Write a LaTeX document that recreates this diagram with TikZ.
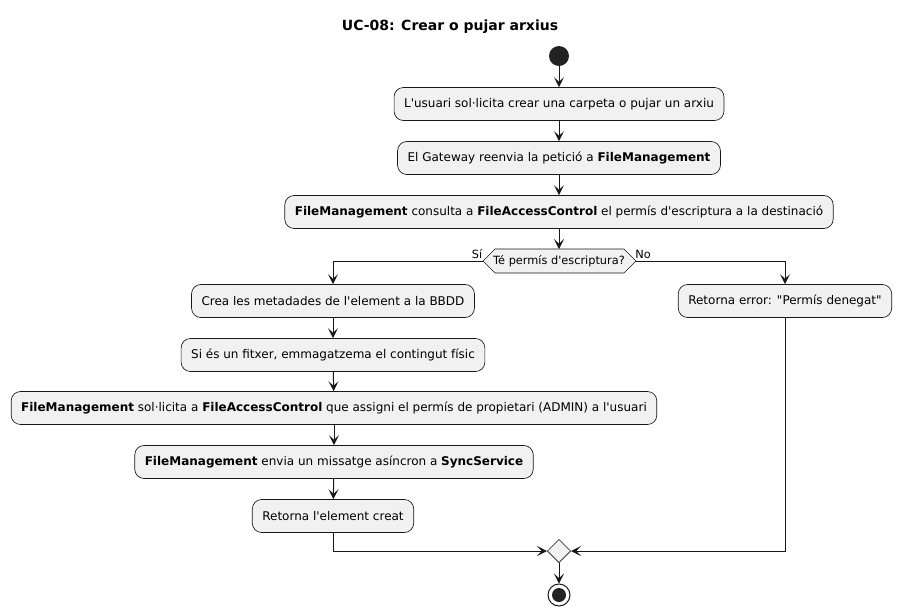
\documentclass[tikz,border=0pt]{standalone}
\usepackage{fontspec}
\setmainfont{DejaVu Sans}[Ligatures=TeXOff]
\usetikzlibrary{arrows.meta,shapes.geometric}
\definecolor{linec}{HTML}{181818}
\definecolor{boxfill}{HTML}{F1F1F1}
\definecolor{dotc}{HTML}{222222}
\tikzset{
  act/.style={draw=linec, fill=boxfill, line width=0.5pt, rounded corners=7pt,
    minimum height=24.75pt, inner xsep=7.5pt, inner ysep=0pt,
    font=\fontsize{9pt}{11pt}\selectfont},
  conn/.style={draw=linec, line width=0.75pt, -{Stealth[length=7.5pt,width=7.5pt,inset=3.5pt]}},
  lbl/.style={font=\fontsize{8.5pt}{10pt}\selectfont, inner sep=0pt, text=black},
}
\begin{document}
\begin{tikzpicture}[x=0.75pt,y=-0.75pt]
\useasboundingbox (0,0) rectangle (901,615);
\node[font=\fontsize{10.5pt}{12pt}\selectfont\bfseries] (title) at (450,27) {UC-08: Crear o pujar arxius};

\node[circle, fill=dotc, minimum size=15pt, inner sep=0pt] (start) at (559,56) {};
\node[act] (b1) at (559,104) {L'usuari sol·licita crear una carpeta o pujar un arxiu};
\node[act] (b2) at (559,158) {El Gateway reenvia la petició a \textbf{FileManagement}};
\node[act] (b3) at (559,212) {\textbf{FileManagement} consulta a \textbf{FileAccessControl} el permís d'escriptura a la destinació};

% decision hexagon
\coordinate (dL) at (483,261);
\coordinate (dR) at (636,261);
\coordinate (dT) at (559,249);
\filldraw[draw=linec, fill=boxfill, line width=0.5pt] (dL) -- (495,249) -- (624,249) -- (dR) -- (624,273) -- (495,273) -- cycle;
\node[font=\fontsize{8.5pt}{10pt}\selectfont] (d) at (559,261) {Té permís d'escriptura?};
\node[lbl] (si) at (477,254) {Sí};
\node[lbl] (no) at (643,254) {No};

\node[act] (l1) at (333,301) {Crea les metadades de l'element a la BBDD};
\node[act] (l2) at (333,355) {Si és un fitxer, emmagatzema el contingut físic};
\node[act] (l3) at (334,408) {\textbf{FileManagement} sol·licita a \textbf{FileAccessControl} que assigni el permís de propietari (ADMIN) a l'usuari};
\node[act] (l4) at (334,462) {\textbf{FileManagement} envia un missatge asíncron a \textbf{SyncService}};
\node[act] (l5) at (333,516) {Retorna l'element creat};
\node[act] (r1) at (785,301) {Retorna error: "Permís denegat"};

\node[diamond, draw=linec, fill=boxfill, line width=0.5pt, minimum size=17.5pt, inner sep=0pt] (m) at (559,551) {};
\node[circle, draw=linec, fill=white, line width=0.75pt, minimum size=16.5pt, inner sep=0pt] (end) at (559,595) {};
\node[circle, fill=dotc, minimum size=10.5pt, inner sep=0pt] (endi) at (559,595) {};

\draw[conn] (start) -- (b1);
\draw[conn] (b1) -- (b2);
\draw[conn] (b2) -- (b3);
\draw[conn] (b3) -- (dT);
\draw[conn] (dL) -| (l1.north);
\draw[conn] (dR) -| (r1.north);
\draw[conn] (l1) -- (l2);
\draw[conn] (l2) -- (l3);
\draw[conn] (l3) -- (l4);
\draw[conn] (l4) -- (l5);
\draw[conn] (l5.south) |- (m.west);
\draw[conn] (r1.south) |- (m.east);
\draw[conn] (m) -- (end);
\end{tikzpicture}
\end{document}
